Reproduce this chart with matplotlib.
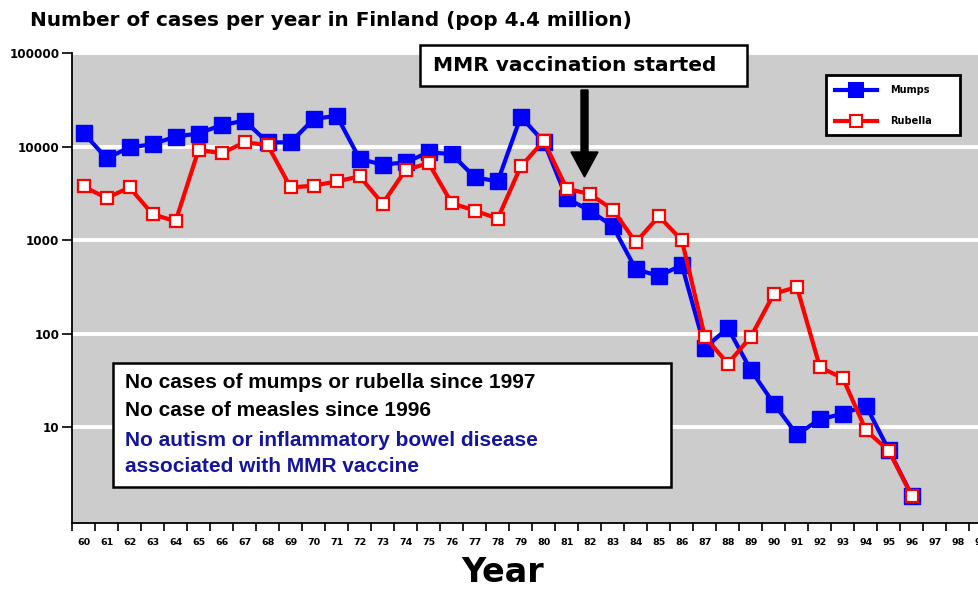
import matplotlib
matplotlib.use("Agg")
import matplotlib.pyplot as plt
from matplotlib.patches import Rectangle, FancyArrow
from matplotlib.lines import Line2D
from matplotlib.ticker import FixedLocator, NullFormatter

plt.rcParams['font.family'] = ['DejaVu Sans']
plt.rcParams['font.weight'] = 'bold'

years = list(range(60, 97))
mumps = [14000, 7500, 9800, 10600, 12800, 13800, 17000, 18900, 11100, 11100,
         19700, 21400, 7400, 6400, 6800, 8700, 8300, 4700, 4250, 20800,
         11300, 2800, 2070, 1410, 490, 414, 542, 71, 115, 41,
         17.9, 8.4, 12.2, 14, 17.1, 5.7, 1.85]
rubella = [3750, 2820, 3660, 1900, 1590, 9230, 8500, 11100, 10400, 3660,
           3820, 4250, 4800, 2460, 5650, 6640, 2490, 2070, 1700, 6130,
           11500, 3550, 3110, 2120, 950, 1800, 1000, 93, 48, 93,
           268, 316, 44, 33.5, 9.3, 5.6, 1.85]
axis_years = list(range(60, 100))
ytick_vals = [10, 100, 1000, 10000, 100000]
ytick_labels = ["10", "100", "1000", "10000", "100000"]
series_names = ["Mumps", "Rubella"]

BLUE = '#0000ff'
RED = '#ff0000'
NAVY = '#1414a0'

W, H = 979, 590
fig = plt.figure(figsize=(W / 100, H / 100), dpi=100)
fig.patch.set_facecolor('white')

def fx(px):
    return px / W

def fy(py):
    return 1 - py / H

ax = fig.add_axes([fx(72), fy(523), (992.5 - 72) / W, (523 - 53) / H])
ax.set_facecolor('#cccccc')
ax.set_yscale('log')
ax.set_ylim(0.952, 100000)
ax.set_xlim(59.5, 99.5)

for v in ytick_vals:
    ax.axhline(v, color='white', lw=2.8, zorder=1)

ax.plot(years, mumps, color=BLUE, lw=3, marker='s', ms=11,
        mfc=BLUE, mec=BLUE, label=series_names[0], zorder=3)
ax.plot(years, rubella, color=RED, lw=3, marker='s', ms=9,
        mfc='white', mec=RED, mew=1.6, label=series_names[1], zorder=4)

for s in ['top', 'right']:
    ax.spines[s].set_visible(False)
ax.spines['left'].set_linewidth(1.3)
ax.spines['bottom'].set_linewidth(1.3)

ax.yaxis.set_major_locator(FixedLocator(ytick_vals))
ax.yaxis.set_minor_locator(FixedLocator([]))
ax.set_yticklabels(ytick_labels)
ax.tick_params(axis='y', which='major', length=7, width=1.2, pad=2,
               labelsize=8.6)

ax.xaxis.set_major_locator(FixedLocator([y - 0.5 for y in axis_years] + [99.5]))
ax.xaxis.set_major_formatter(NullFormatter())
ax.xaxis.set_minor_locator(FixedLocator(axis_years))
ax.set_xticklabels([str(y) for y in axis_years], minor=True)
ax.tick_params(axis='x', which='major', length=6, width=1.2, direction='out')
ax.tick_params(axis='x', which='minor', length=0, pad=11, labelsize=6.8)
for lab in ax.get_xticklabels(minor=True) + ax.get_yticklabels():
    lab.set_fontweight('bold')

# Legend (drawn manually to match the box)
fig.patches.append(Rectangle((fx(826), fy(135)), fx(960) - fx(826), fy(75) - fy(135),
                             transform=fig.transFigure, facecolor='white',
                             edgecolor='black', lw=2, zorder=5))
for name, col, py, mfc, ms in [(series_names[0], BLUE, 90, BLUE, 9.5),
                               (series_names[1], RED, 121, 'white', 8.5)]:
    fig.add_artist(Line2D([fx(835), fx(877)], [fy(py), fy(py)], color=col, lw=3,
                          transform=fig.transFigure, zorder=6))
    fig.add_artist(Line2D([fx(856)], [fy(py)], color=col, marker='s', ms=ms,
                          mfc=mfc, mec=col, mew=1.5, lw=0,
                          transform=fig.transFigure, zorder=7))
    fig.text(fx(890), fy(py), name, fontsize=7, fontweight='bold',
             ha='left', va='center', zorder=7)

fig.text(fx(30), fy(20), "Number of cases per year in Finland (pop 4.4 million)",
         fontsize=14.4, fontweight='bold', ha='left', va='center')

fig.text(fx(503), fy(573), "Year", fontsize=24, fontweight='bold',
         ha='center', va='center')

# MMR box
fig.patches.append(Rectangle((fx(420), fy(86)), fx(747) - fx(420), fy(45) - fy(86),
                             transform=fig.transFigure, facecolor='white',
                             edgecolor='black', lw=1.8, zorder=5))
fig.text(fx(433), fy(65.5), "MMR vaccination started", fontsize=14.5,
         fontweight='bold', ha='left', va='center', zorder=6)
fig.patches.append(FancyArrow(5.845, (H - 90) / 100, 0, -0.87, width=0.07,
                              head_width=0.27, head_length=0.25,
                              length_includes_head=True, color='black',
                              transform=fig.dpi_scale_trans, zorder=6))

# Note box
fig.patches.append(Rectangle((fx(113), fy(487)), fx(671) - fx(113), fy(363) - fy(487),
                             transform=fig.transFigure, facecolor='white',
                             edgecolor='black', lw=1.8, zorder=5))
notes = [("No cases of mumps or rubella since 1997", 'black', 383),
         ("No case of measles since 1996", 'black', 411),
         ("No autism or inflammatory bowel disease", NAVY, 440),
         ("associated with MMR vaccine", NAVY, 467)]
for txt, col, py in notes:
    fig.text(fx(125), fy(py), txt, fontsize=15, fontweight='bold', color=col,
             family='Liberation Sans', ha='left', va='center', zorder=6)

fig.savefig("out.png", dpi=100)
